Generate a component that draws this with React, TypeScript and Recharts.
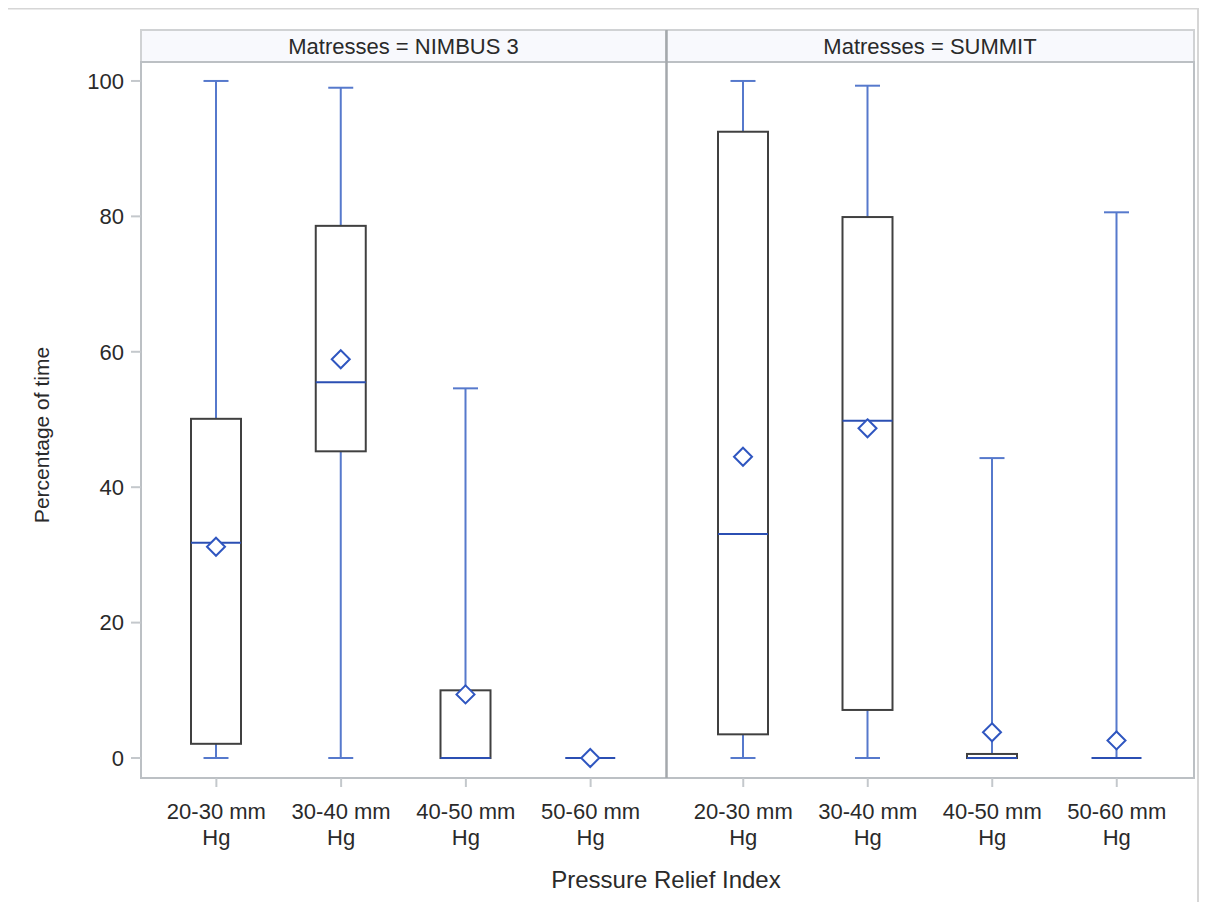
import React from 'react';
import { ComposedChart, Bar, XAxis, YAxis } from 'recharts';

// ---------- data ----------
const categories = ['20-30 mm Hg', '30-40 mm Hg', '40-50 mm Hg', '50-60 mm Hg'];
const panelTitles = ['Matresses = NIMBUS 3', 'Matresses = SUMMIT'];

const nimbusMin = [0, 0, 0, 0];
const nimbusQ1 = [2.1, 45.3, 0, 0];
const nimbusMedian = [31.8, 55.5, 0, 0];
const nimbusQ3 = [50.1, 78.6, 10.0, 0];
const nimbusMax = [100, 99, 54.6, 0];
const nimbusMean = [31.2, 58.9, 9.4, 0];

const summitMin = [0, 0, 0, 0];
const summitQ1 = [3.5, 7.1, 0, 0];
const summitMedian = [33.1, 49.8, 0, 0];
const summitQ3 = [92.5, 79.9, 0.6, 0];
const summitMax = [100, 99.3, 44.3, 80.6];
const summitMean = [44.5, 48.7, 3.8, 2.6];

const yTicks = [0, 20, 40, 60, 80, 100];
const yDomain: [number, number] = [-2.95, 102.8];

const buildRows = (mn: number[], q1: number[], md: number[], q3: number[], mx: number[], mean: number[]) =>
  categories.map((cat, i) => ({
    cat,
    min: mn[i],
    q1: q1[i],
    median: md[i],
    q3: q3[i],
    max: mx[i],
    mean: mean[i],
    span: [yTicks[0], yTicks[yTicks.length - 1]],
  }));

const nimbusRows = buildRows(nimbusMin, nimbusQ1, nimbusMedian, nimbusQ3, nimbusMax, nimbusMean);
const summitRows = buildRows(summitMin, summitQ1, summitMedian, summitQ3, summitMax, summitMean);

// ---------- styles ----------
const FONT = '"Liberation Sans", Arial, Helvetica, sans-serif';
const WHISKER = '#5679cc';
const MEDIAN = '#2b4fb3';
const BOXLINE = '#404040';
const MEAN = '#2f56c0';
const TEXT = '#2a2a2a';

// Box-plot shape: the bar spans [0,100] so its geometry gives the library's y scale.
const BoxShape = (props: any) => {
  const { x, y, width, height, payload } = props;
  const top = Math.min(y, y + height);
  const bottom = Math.max(y, y + height);
  const lo = yTicks[0];
  const hi = yTicks[yTicks.length - 1];
  const k = (bottom - top) / (hi - lo);
  const py = (v: number) => bottom - (v - lo) * k;
  const cx = x + width / 2;
  const capHalf = width / 4;
  const yMin = py(payload.min);
  const yMax = py(payload.max);
  const yQ1 = py(payload.q1);
  const yQ3 = py(payload.q3);
  const yMed = py(payload.median);
  const yMean = py(payload.mean);
  const d = 9;
  return (
    <g>
      <line x1={cx} x2={cx} y1={yQ3} y2={yMax} stroke={WHISKER} strokeWidth={2} />
      <line x1={cx} x2={cx} y1={yQ1} y2={yMin} stroke={WHISKER} strokeWidth={2} />
      <line x1={cx - capHalf} x2={cx + capHalf} y1={yMax} y2={yMax} stroke={WHISKER} strokeWidth={2} />
      <line x1={cx - capHalf} x2={cx + capHalf} y1={yMin} y2={yMin} stroke={WHISKER} strokeWidth={2} />
      {yQ1 - yQ3 > 0.5 && (
        <rect x={x} y={yQ3} width={width} height={yQ1 - yQ3} fill="#ffffff" stroke={BOXLINE} strokeWidth={2} />
      )}
      <line x1={x} x2={x + width} y1={yMed} y2={yMed} stroke={MEDIAN} strokeWidth={2} />
      <polygon
        points={`${cx},${yMean - d} ${cx + d},${yMean} ${cx},${yMean + d} ${cx - d},${yMean}`}
        fill="#ffffff"
        stroke={MEAN}
        strokeWidth={2}
      />
    </g>
  );
};

const XTick = (props: any) => {
  const { x, y, payload } = props;
  const label = String(payload.value);
  const i = label.lastIndexOf(' ');
  const l1 = label.slice(0, i);
  const l2 = label.slice(i + 1);
  return (
    <text x={x} y={y} textAnchor="middle" fontSize={22} fill={TEXT} fontFamily={FONT}>
      <tspan x={x} dy={30}>{l1}</tspan>
      <tspan x={x} dy={26}>{l2}</tspan>
    </text>
  );
};

const CHART_TOP = 30;
const CHART_H = 830;
const MARGIN = { top: 32, right: 0, bottom: 0, left: 0 };

const Panel = ({ rows, showY, pad }: { rows: any[]; showY: boolean; pad: number }) => (
  <>
    <XAxis
      dataKey="cat"
      height={82}
      padding={{ left: pad, right: pad }}
      axisLine={false}
      tickLine={{ stroke: '#c4c8cc', strokeWidth: 2 }}
      tickSize={9}
      tickMargin={2}
      tick={(p: any) => <XTick {...p} />}
      interval={0}
    />
    <YAxis
      hide={!showY}
      width={133}
      domain={yDomain}
      ticks={yTicks}
      allowDataOverflow
      axisLine={false}
      tickLine={{ stroke: '#c4c8cc', strokeWidth: 2 }}
      tickSize={10}
      tickMargin={7}
      tick={{ fontSize: 22, fill: TEXT, fontFamily: FONT }}
    />
    <Bar dataKey="span" barSize={50} isAnimationActive={false} shape={(p: any) => <BoxShape {...p} />} />
  </>
);

export default function App() {
  return (
    <div
      style={{
        position: 'relative',
        width: 1200,
        height: 902,
        margin: '-8px 0 0 -8px',
        overflow: 'hidden',
        background: '#ffffff',
        fontFamily: FONT,
      }}
    >
      <svg width={1200} height={902} style={{ position: 'absolute', left: 0, top: 0 }}>
        {/* outer frame */}
        <rect x={7} y={8.5} width={1191} height={920} fill="none" stroke="#d6d6d6" strokeWidth={2} />
        {/* headers */}
        <rect x={141} y={30} width={525} height={32} fill="#f8f9fd" stroke="#d0d2d4" strokeWidth={2} />
        <rect x={666} y={30} width={528} height={32} fill="#f8f9fd" stroke="#d0d2d4" strokeWidth={2} />
        <text x={403.5} y={54} textAnchor="middle" fontSize={22} fill={TEXT} fontFamily={FONT}>
          {panelTitles[0]}
        </text>
        <text x={930} y={54} textAnchor="middle" fontSize={22} fill={TEXT} fontFamily={FONT}>
          {panelTitles[1]}
        </text>
        {/* panel frames */}
        <rect x={141} y={62} width={1053} height={716} fill="none" stroke="#bcc0c4" strokeWidth={2} />
        <line x1={666.5} x2={666.5} y1={30} y2={778} stroke="#a4a8ac" strokeWidth={2.5} />
        {/* axis titles */}
        <text
          x={49}
          y={435}
          transform="rotate(-90 49 435)"
          textAnchor="middle"
          fontSize={21}
          fill={TEXT}
          fontFamily={FONT}
        >
          Percentage of time
        </text>
        <text x={666} y={888} textAnchor="middle" fontSize={24} fill={TEXT} fontFamily={FONT}>
          Pressure Relief Index
        </text>
      </svg>
      <div style={{ position: 'absolute', left: 8, top: CHART_TOP }}>
        <ComposedChart width={658} height={CHART_H} data={nimbusRows} margin={MARGIN}>
          {Panel({ rows: nimbusRows, showY: true, pad: 13 })}
        </ComposedChart>
      </div>
      <div style={{ position: 'absolute', left: 666, top: CHART_TOP }}>
        <ComposedChart width={528} height={CHART_H} data={summitRows} margin={MARGIN}>
          {Panel({ rows: summitRows, showY: false, pad: 15 })}
        </ComposedChart>
      </div>
    </div>
  );
}
